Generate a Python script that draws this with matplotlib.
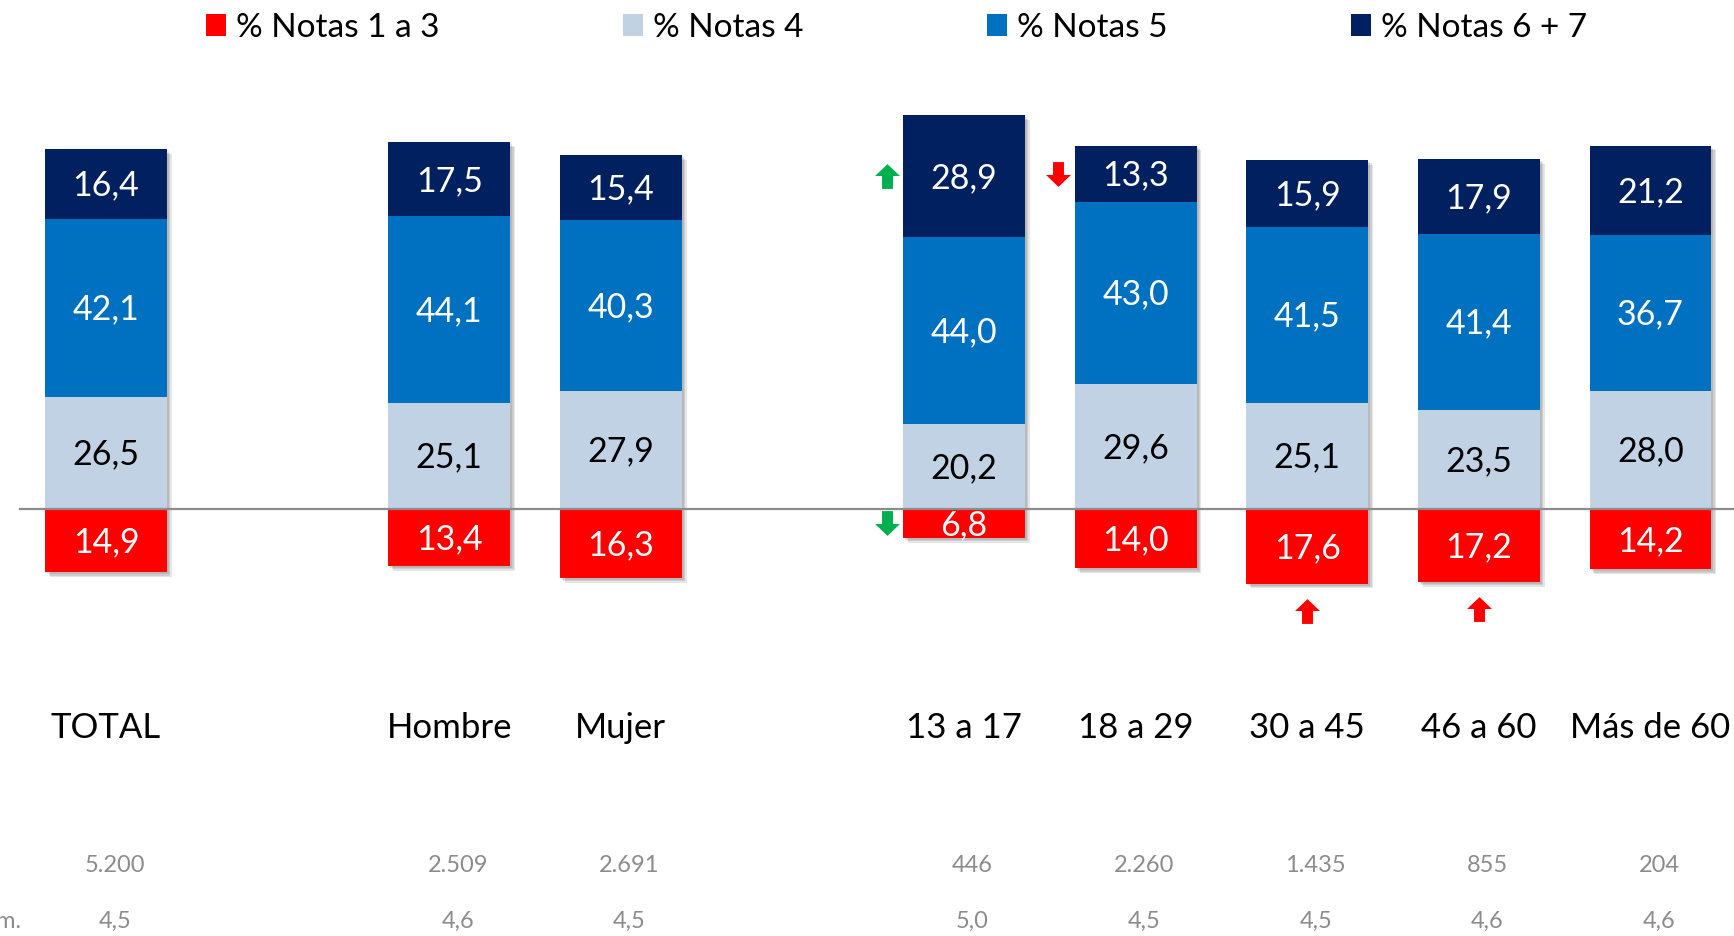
import numpy as np
import matplotlib.pyplot as plt
import matplotlib.patheffects as pe
from matplotlib.patches import Patch
from matplotlib.path import Path

plt.rcParams['font.family'] = ['Lato', 'DejaVu Sans']

categories = ['TOTAL', 'Hombre', 'Mujer', '13 a 17', '18 a 29', '30 a 45', '46 a 60', 'Más de 60']
slots = [0, 2, 3, 5, 6, 7, 8, 9]
notas_1_3 = [14.9, 13.4, 16.3, 6.8, 14.0, 17.6, 17.2, 14.2]
notas_4 = [26.5, 25.1, 27.9, 20.2, 29.6, 25.1, 23.5, 28.0]
notas_5 = [42.1, 44.1, 40.3, 44.0, 43.0, 41.5, 41.4, 36.7]
notas_6_7 = [16.4, 17.5, 15.4, 28.9, 13.3, 15.9, 17.9, 21.2]
bases = ['5.200', '2.509', '2.691', '446', '2.260', '1.435', '855', '204']
promedios = ['4,5', '4,6', '4,5', '5,0', '4,5', '4,5', '4,6', '4,6']
series_names = ['% Notas 1 a 3', '% Notas 4', '% Notas 5', '% Notas 6 + 7']
series_colors = ['#FF0000', '#C0D2E4', '#0070C0', '#002060']
label_colors = ['white', 'black', 'white', 'white']
# significance arrows: (category, segment, direction, colour, placement)
flags = [('13 a 17', 3, 'up', '#00B050', 'left'),
         ('13 a 17', 0, 'down', '#00B050', 'left'),
         ('18 a 29', 3, 'down', '#FF0000', 'left'),
         ('30 a 45', 0, 'up', '#FF0000', 'below'),
         ('46 a 60', 0, 'up', '#FF0000', 'below')]

x = np.array(slots, dtype=float)
red = np.array(notas_1_3); n4 = np.array(notas_4); n5 = np.array(notas_5); n67 = np.array(notas_6_7)
w = 0.71

fig = plt.figure(figsize=(17.34, 9.36), dpi=100)
ax = fig.add_axes([0, 0, 1, 1])
ax.set_xlim(-0.618, 9.487)
ax.set_ylim(-100.9, 120.3)
ax.axis('off')

# soft drop shadow behind every full stack
shadow = [pe.SimplePatchShadow(offset=(o, -o), shadow_rgbFace='k', alpha=0.10) for o in (1.5, 2.5, 3.5)]
ax.bar(x, red + n4 + n5 + n67, w, bottom=-red, color='none', zorder=1, path_effects=shadow)

segments = [(-red, red), (np.zeros_like(n4), n4), (n4, n5), (n4 + n5, n67)]
values = [red, n4, n5, n67]
for (bottom, height), vals, col, tcol in zip(segments, values, series_colors, label_colors):
    ax.bar(x, height, w, bottom=bottom, color=col, zorder=2)
    for xi, b, h, v in zip(x, bottom, height, vals):
        ax.text(xi, b + h / 2 - 0.4, f'{v:.1f}'.replace('.', ','), ha='center', va='center',
                fontsize=24.5, color=tcol, zorder=4)

ax.axhline(0, xmin=0.0115, xmax=1, color='#8C8C8C', lw=1.6, zorder=3)

# arrows
up = Path([(-0.22, -0.5), (0.22, -0.5), (0.22, 0.02), (0.5, 0.02), (0, 0.5), (-0.5, 0.02), (-0.22, 0.02), (-0.22, -0.5)],
          [1, 2, 2, 2, 2, 2, 2, 79])
down = Path(up.vertices * [1, -1], up.codes)
for cat, seg, d, col, place in flags:
    i = categories.index(cat)
    b, h = segments[seg][0][i], segments[seg][1][i]
    if place == 'left':
        px, py = x[i] - 0.45, b + h / 2
    else:
        px, py = x[i], b - 6.5
    ax.scatter([px], [py], s=320, marker=up if d == 'up' else down, color=col, lw=0, zorder=5)

for xi, cat, bs, pr in zip(x, categories, bases, promedios):
    ax.text(xi, -51.8, cat, ha='center', va='center', fontsize=25, color='black')
    ax.text(xi + 0.05, -84.2, bs, ha='center', va='center', fontsize=17, color='#8C8C8C')
    ax.text(xi + 0.05, -97.4, pr, ha='center', va='center', fontsize=17, color='#8C8C8C')
ax.text(-0.49, -97.4, 'Prom.', ha='right', va='center', fontsize=17, color='#8C8C8C')

handles = [Patch(facecolor=c, edgecolor='none') for c in series_colors]
fig.legend(handles, series_names, loc='center', bbox_to_anchor=(0.517, 1 - 28 / 936), ncol=4,
           frameon=False, fontsize=24, handlelength=0.6, handleheight=0.62,
           handletextpad=0.3, columnspacing=5.5)

fig.savefig('out.png', dpi=100)
